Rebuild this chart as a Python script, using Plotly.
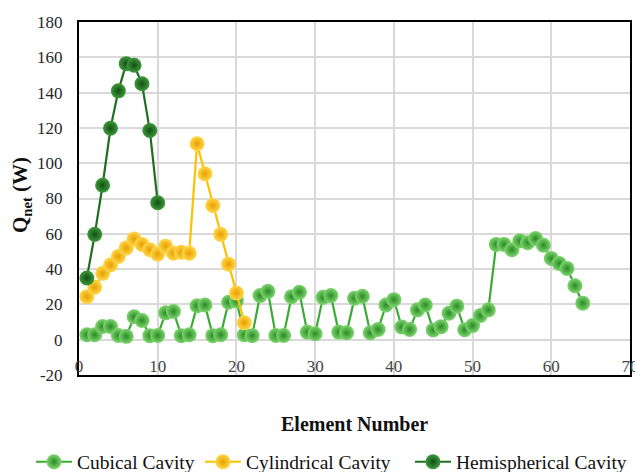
import plotly.graph_objects as go

cubical_x = list(range(1, 65))
cubical_y = [2.8, 2.8, 7.5, 7.5, 2.4, 1.9, 13, 10.9, 2.3, 2.4,
             15.2, 16, 2.3, 2.8, 19.2, 19.7, 2.3, 2.8, 21.2, 22,
             2.8, 2.3, 25, 27.4, 2.4, 2.4, 24.4, 26.9, 4.3, 3.4,
             24, 25, 4.3, 3.9, 23.5, 24.6, 3.9, 5.8, 19.7, 22.7,
             7.2, 5.8, 16.9, 19.7, 5.5, 7.4, 15, 19, 5.6, 8,
             13.7, 16.9, 54, 54, 51, 56, 55, 57.3, 53.5, 46,
             43.2, 40.4, 30.6, 20.7]
cyl_x = list(range(1, 22))
cyl_y = [24.4, 29.7, 37.6, 42.3, 47.2, 52, 57, 54, 51, 48.5,
         53, 49, 49.6, 49, 111, 94, 76, 59.7, 42.8, 26.5, 9.6]
hemi_x = list(range(1, 11))
hemi_y = [35, 59.7, 87.5, 119.8, 141, 156.4, 155.5, 145, 118.5, 77.6]

series_names = ["Cubical Cavity", "Cylindrical Cavity", "Hemispherical Cavity"]
x_ticks = [0, 10, 20, 30, 40, 50, 60, 70]
y_ticks = [-20, 0, 20, 40, 60, 80, 100, 120, 140, 160, 180]

FONT = "Liberation Serif"

fig = go.Figure()

def add(xs, ys, name, line_color, marker_color, edge, legend):
    fig.add_trace(go.Scatter(
        x=xs, y=ys, name=name, mode="lines+markers", legend=legend,
        line=dict(color=line_color, width=2.2),
        marker=dict(size=15, color=marker_color,
                    gradient=dict(type="radial", color=edge),
                    line=dict(width=0)),
    ))

add(cubical_x, cubical_y, series_names[0], "#3cab35", "#7fd66f", "#2a8a25", "legend")
add(cyl_x, cyl_y, series_names[1], "#ffc000", "#ffd84a", "#e89f00", "legend2")
add(hemi_x, hemi_y, series_names[2], "#1f6e22", "#3f9a3c", "#114f14", "legend3")

def leg(x):
    return dict(orientation="h", x=x, xanchor="left", xref="container",
                y=0.021, yanchor="middle", yref="container",
                font=dict(size=19.5, color="#111"),
                itemwidth=36, bgcolor="rgba(0,0,0,0)", borderwidth=0)

fig.update_layout(
    width=635, height=472,
    margin=dict(l=79, r=5, t=22, b=97, autoexpand=False),
    paper_bgcolor="white", plot_bgcolor="white",
    font=dict(family=FONT, size=17, color="#262626"),
    showlegend=True,
    legend=leg(31 / 635),
    legend2=leg(200 / 635),
    legend3=leg(410 / 635),
    xaxis=dict(range=[0, 70], tickvals=x_ticks, ticktext=[str(v) for v in x_ticks],
               ticklabelposition="inside", ticklabeloverflow="allow",
               showgrid=True, gridcolor="#d9d9d9", gridwidth=1.5,
               showline=True, linecolor="black", linewidth=2, mirror=True,
               zeroline=False, ticks="", tickfont=dict(size=17)),
    yaxis=dict(range=[-20, 180], tickvals=y_ticks, ticktext=[str(v) for v in y_ticks],
               ticklabeloverflow="allow",
               showgrid=True, gridcolor="#d9d9d9", gridwidth=1.5,
               showline=True, linecolor="black", linewidth=2, mirror=True,
               zeroline=False, ticks="", ticklabelstandoff=11, tickfont=dict(size=17)),
    annotations=[
        dict(text="<b>Element Number</b>", x=0.5, xref="paper", y=-0.14, yref="paper",
             xanchor="center", yanchor="middle", showarrow=False, font=dict(size=20, color="#111")),
        dict(text="<b>Q<sub>net</sub> (W)</b>", x=-0.105, xref="paper", y=0.51, yref="paper",
             xanchor="center", yanchor="middle", showarrow=False, textangle=-90,
             font=dict(size=21, color="#111")),
    ],
)

fig.write_html("out.html")
